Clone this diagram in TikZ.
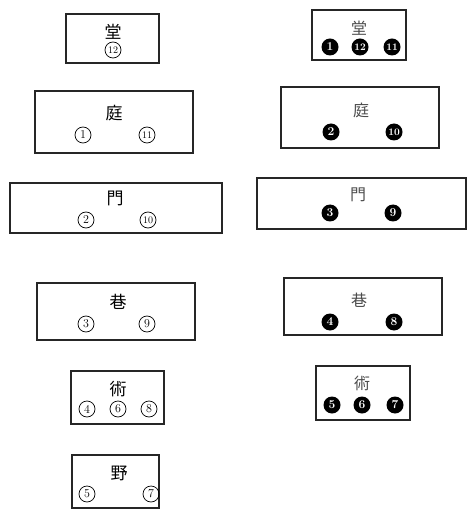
\documentclass[tikz,border=0pt]{standalone}
\usepackage{fontspec}
\newfontfamily\cjk{Noto Sans CJK JP}
\usepackage{tikz}
\usetikzlibrary{positioning}
\tikzset{
  hall/.style={rectangle, draw=black!85, line width=1.2pt, inner sep=0pt},
  place/.style={font=\cjk\fontsize{17}{17}\selectfont, inner sep=0pt},
  placeR/.style={place, text=black!70, font=\cjk\fontsize{16}{16}\selectfont},
  num/.style={circle, draw=black, line width=0.7pt, minimum size=16pt, inner sep=0pt,
    font=\fontsize{12}{12}\selectfont},
  numtwo/.style={num, font=\fontsize{10}{10}\selectfont},
  dot/.style={circle, fill=black, minimum size=17pt, inner sep=0pt, text=white,
    font=\bfseries\fontsize{12}{12}\selectfont},
  dottwo/.style={dot, font=\bfseries\fontsize{10}{10}\selectfont}
}

\begin{document}
\begin{tikzpicture}[x=1pt, y=-1pt]
  \useasboundingbox (0,0) rectangle (467,510);

  % left column: the walk in
  \node[hall, minimum width=93pt, minimum height=49pt] (tangL) at (112.5,38.5) {};
  \node[place] (tangLt) at (113,32) {堂};
  \node[numtwo] (n12) at (113,50) {12};

  \node[hall, minimum width=158pt, minimum height=62pt] (tingL) at (114,122) {};
  \node[place] (tingLt) at (114,113) {庭};
  \node[num] (n1) at (83,135) {1};
  \node[numtwo] (n11) at (147,135) {11};

  \node[hall, minimum width=212pt, minimum height=50pt] (menL) at (116,208) {};
  \node[place] (menLt) at (115,198) {門};
  \node[num] (n2) at (86,220) {2};
  \node[numtwo] (n10) at (148,220) {10};

  \node[hall, minimum width=158pt, minimum height=57pt] (xiangL) at (116,311.5) {};
  \node[place] (xiangLt) at (118,302) {巷};
  \node[num] (n3) at (86,324) {3};
  \node[num] (n9) at (147,324) {9};

  \node[hall, minimum width=93pt, minimum height=53pt] (shuL) at (117.5,397.5) {};
  \node[place] (shuLt) at (118,389) {術};
  \node[num] (n4) at (87,409) {4};
  \node[num] (n6) at (118,409) {6};
  \node[num] (n8) at (149,409) {8};

  \node[hall, minimum width=87pt, minimum height=53pt] (yeL) at (115.5,481.5) {};
  \node[place] (yeLt) at (119,473) {野};
  \node[num] (n5) at (87,494) {5};
  \node[num] (n7) at (151,494) {7};

  % right column: the walk out
  \node[hall, minimum width=94pt, minimum height=50pt] (tangR) at (359,35) {};
  \node[placeR] (tangRt) at (359,28) {堂};
  \node[dot] (m1) at (330,47) {1};
  \node[dottwo] (m12) at (360,47) {12};
  \node[dottwo] (m11) at (392,47) {11};

  \node[hall, minimum width=158pt, minimum height=61pt] (tingR) at (360,117.5) {};
  \node[placeR] (tingRt) at (361,110) {庭};
  \node[dot] (m2) at (331,132) {2};
  \node[dottwo] (m10) at (394,132) {10};

  \node[hall, minimum width=209pt, minimum height=51pt] (menR) at (361.5,203.5) {};
  \node[placeR] (menRt) at (358,195) {門};
  \node[dot] (m3) at (330,213) {3};
  \node[dot] (m9) at (393,213) {9};

  \node[hall, minimum width=158pt, minimum height=57pt] (xiangR) at (363,306.5) {};
  \node[placeR] (xiangRt) at (359,300) {巷};
  \node[dot] (m4) at (330,322) {4};
  \node[dot] (m8) at (394,322) {8};

  \node[hall, minimum width=94pt, minimum height=54pt] (shuR) at (363,393) {};
  \node[placeR] (shuRt) at (362,383) {術};
  \node[dot] (m5) at (332,405) {5};
  \node[dot] (m6) at (362,405) {6};
  \node[dot] (m7) at (395,405) {7};
\end{tikzpicture}
\end{document}
